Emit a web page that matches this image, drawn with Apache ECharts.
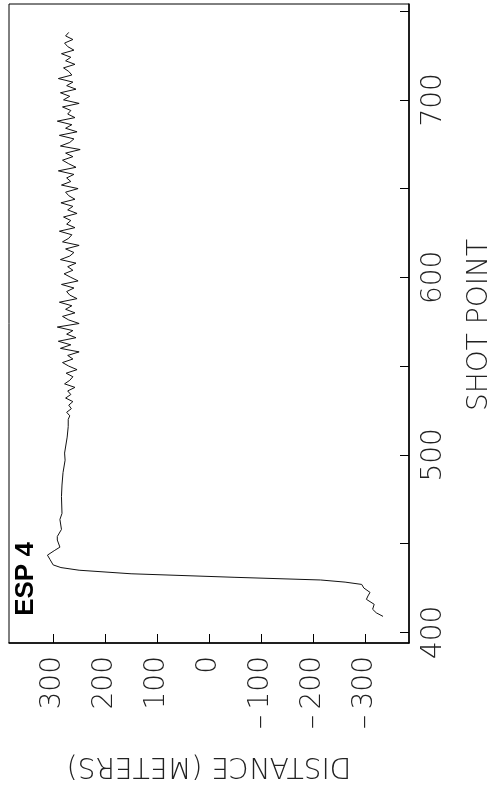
<!DOCTYPE html>
<html>
<head>
<meta charset="utf-8">
<script src="https://cdn.jsdelivr.net/npm/echarts@6/dist/echarts.min.js"></script>
<style>
html,body{margin:0;padding:0;background:#fff;}
#chart{width:495px;height:791px;}
</style>
</head>
<body>
<div id="chart"></div>
<script>
// Shot points (along the vertical axis) and distance (along the horizontal axis)
var shotPoints = [
  409, 411, 413, 415.8, 418.6, 420.5, 422.5, 425, 427, 428.3, 429.5, 431, 433, 435, 436.5, 438, 441, 443.5, 446, 448,
  452, 454, 458, 463.6, 467, 476.5, 483, 490, 497, 501, 510, 516,
  520, 522, 524, 526, 528, 530, 532, 534, 536, 538, 540,
  542, 544, 546, 548, 550, 552, 554, 556, 558, 560,
  562, 564, 566, 568, 570, 572, 574, 576, 578, 580,
  582, 584, 586, 588, 590, 592, 594, 596, 598, 600,
  602, 604, 606, 608, 610, 612, 614, 616, 618, 620,
  622, 624, 626, 628, 630, 632, 634, 636, 638, 640,
  642, 644, 646, 648, 650, 652, 654, 656, 658, 660,
  662, 664, 666, 668, 670, 672, 674, 676, 678, 680,
  682, 684, 686, 688, 690, 692, 694, 696, 698, 700,
  702, 704, 706, 708, 710, 712, 714, 716, 718, 720,
  722, 724, 726, 728, 730, 732, 734, 736, 738
];
var distances = [
  -335, -322, -315, -318, -303, -306, -310, -298, -294, -262, -215, -50, 150, 250, 285, 300, 306, 311, 298, 287,
  292, 292, 284, 287, 283, 284, 283, 281, 277, 278, 273, 271,
  271, 268, 274, 265, 270, 262, 276, 266, 272, 258, 278,
  268, 262, 275, 254, 270, 282, 262, 272, 250, 286,
  266, 290, 256, 274, 262, 292, 250, 270, 282, 258,
  276, 264, 288, 254, 268, 274, 260, 284, 252, 266,
  279, 262, 272, 256, 286, 268, 260, 276, 250, 282,
  270, 264, 288, 258, 274, 266, 280, 254, 272, 262,
  285, 258, 270, 276, 252, 284, 266, 274, 260, 290,
  256, 270, 282, 262, 276, 248, 286, 268, 260, 288,
  254, 276, 264, 292, 258, 272, 266, 282, 250, 280,
  268, 286, 256, 274, 262, 290, 264, 270, 280, 258,
  276, 266, 284, 260, 272, 278, 262, 276, 270
];
var distTicks = [300, 200, 100, 0, -100, -200, -300];
var shotTicks = [400, 450, 500, 550, 600, 650, 700, 750];
var shotLabels = [400, 500, 600, 700];
var xTitle = 'DISTANCE (METERS)';
var yTitle = 'SHOT POINT';
var panelLabel = 'ESP 4';

var seriesData = shotPoints.map(function (s, i) { return [distances[i], s]; });
var thinFont = "'DejaVu Sans', 'Liberation Sans', sans-serif";

var chart = echarts.init(document.getElementById('chart'), null, {renderer: 'canvas'});
chart.setOption({
  animation: false,
  backgroundColor: '#fff',
  grid: {left: 9, right: 86, top: 4, bottom: 148, show: true, borderColor: '#000', borderWidth: 1, backgroundColor: 'transparent'},
  xAxis: {
    type: 'value', min: -385, max: 385, inverse: true, position: 'bottom',
    axisLine: {show: true, onZero: false, lineStyle: {color: '#000', width: 1.5}},
    axisTick: {show: true, inside: true, length: 9, customValues: distTicks, lineStyle: {color: '#000', width: 1}},
    axisLabel: {
      show: true, customValues: distTicks, rotate: 90, margin: 13,
      fontFamily: thinFont, fontWeight: 200, fontSize: 28, color: '#222',
      formatter: function (v) { return v < 0 ? '\u2013\u2009' + Math.abs(v) : String(v); }
    },
    splitLine: {show: false}
  },
  yAxis: {
    type: 'value', min: 394, max: 754, position: 'right',
    axisLine: {show: true, onZero: false, lineStyle: {color: '#000', width: 1.5}},
    axisTick: {show: true, inside: true, length: 9, customValues: shotTicks, lineStyle: {color: '#000', width: 1}},
    axisLabel: {
      show: true, customValues: shotLabels, rotate: 90, margin: 11,
      fontFamily: thinFont, fontWeight: 200, fontSize: 28, color: '#222'
    },
    splitLine: {show: false}
  },
  series: [{
    type: 'line', data: seriesData, showSymbol: false, symbol: 'none',
    lineStyle: {color: '#111', width: 1}
  }],
  graphic: [
    {type: 'text', x: 26, y: 579, rotation: Math.PI / 2,
     style: {text: panelLabel, font: "bold 26px 'Liberation Sans', Arial, sans-serif", fill: '#000', textAlign: 'center', textVerticalAlign: 'middle'}},
    {type: 'text', x: 480, y: 325, rotation: Math.PI / 2,
     style: {text: yTitle, font: "200 28px 'DejaVu Sans', sans-serif", fill: '#222', textAlign: 'center', textVerticalAlign: 'middle'}},
    {type: 'text', x: 209, y: 765, rotation: Math.PI,
     style: {text: xTitle, font: "200 28px 'DejaVu Sans', sans-serif", fill: '#222', textAlign: 'center', textVerticalAlign: 'middle'}}
  ]
});
</script>
</body>
</html>
